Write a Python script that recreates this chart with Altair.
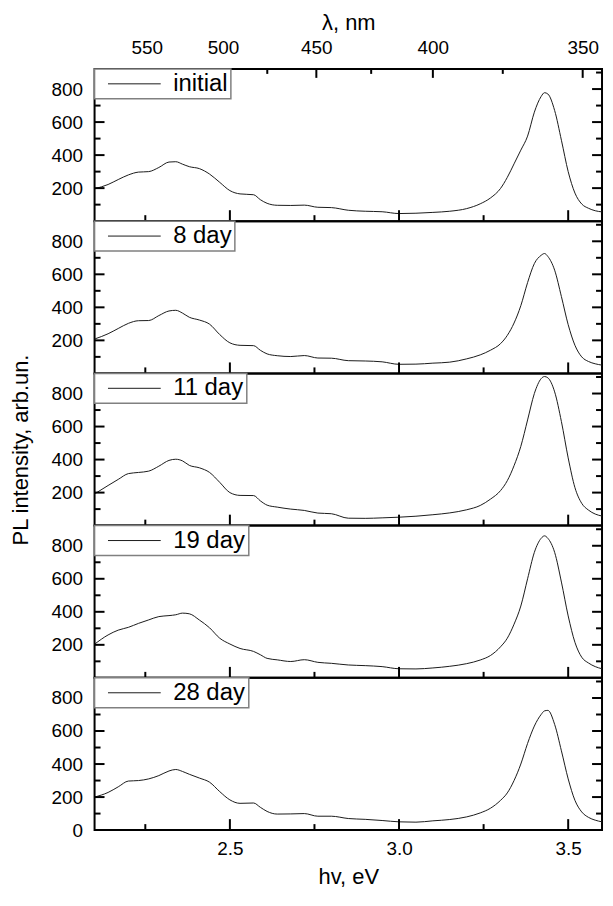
import altair as alt
import pandas as pd

# ---------------- data ----------------
energy = [2.10, 2.14, 2.17, 2.20, 2.23, 2.26, 2.29, 2.32, 2.34, 2.36,
          2.38, 2.41, 2.44, 2.47, 2.50, 2.53, 2.57, 2.59, 2.61, 2.64,
          2.68, 2.72, 2.76, 2.80, 2.85, 2.90, 2.95, 3.00, 3.05, 3.10,
          3.15, 3.20, 3.24, 3.27, 3.30, 3.32, 3.34, 3.36, 3.38, 3.40,
          3.42, 3.43, 3.44, 3.46, 3.48, 3.50, 3.52, 3.54, 3.56, 3.58, 3.60]

initial = [196, 222, 252, 280, 297, 300, 325, 358, 360, 345,
           330, 318, 285, 235, 185, 165, 160, 130, 108, 96,
           95, 97, 84, 82, 66, 60, 57, 46, 48, 53,
           60, 76, 105, 140, 198, 265, 347, 430, 515, 660,
           755, 778, 770, 670, 490, 300, 170, 104, 78, 63, 56]

day8 = [208, 240, 272, 303, 319, 320, 350, 378, 382, 365,
        340, 323, 298, 235, 185, 170, 168, 140, 118, 107,
        102, 108, 93, 92, 77, 75, 70, 55, 56, 62,
        68, 88, 112, 140, 180, 230, 305, 410, 550, 665,
        715, 726, 708, 625, 465, 295, 170, 100, 72, 58, 50]

day11 = [192, 243, 280, 315, 322, 330, 360, 395, 402, 392,
         365, 350, 322, 262, 200, 183, 182, 150, 124, 112,
         100, 92, 76, 72, 45, 44, 47, 51, 57, 66,
         77, 96, 122, 160, 212, 272, 363, 480, 640, 800,
         890, 903, 895, 810, 630, 410, 230, 135, 94, 70, 58]

day19 = [204, 260, 289, 306, 330, 351, 371, 377, 382, 392,
         388, 350, 303, 240, 205, 178, 160, 140, 118, 109,
         99, 110, 94, 88, 78, 74, 68, 55, 54, 60,
         70, 86, 108, 135, 188, 240, 325, 435, 600, 760,
         845, 860, 845, 760, 580, 375, 215, 125, 90, 68, 55]

day28 = [200, 228, 262, 297, 300, 310, 330, 358, 367, 355,
         338, 315, 290, 233, 183, 162, 164, 138, 113, 97,
         98, 100, 84, 84, 70, 65, 58, 50, 48, 56,
         64, 80, 104, 132, 180, 225, 300, 400, 525, 630,
         700, 722, 725, 640, 480, 310, 180, 110, 77, 60, 50]

series_names = ["initial", "8 day", "11 day", "19 day", "28 day"]
series_values = [initial, day8, day11, day19, day28]

ev_major = [2.5, 3.0, 3.5]
ev_minor = [2.25, 2.75, 3.25]
lam_major = [550, 500, 450, 400, 350]
lam_minor = [575, 525, 475, 425, 375]
HC = 1240.0
y_major = [200, 400, 600, 800]
y_minor = [100, 300, 500, 700, 900]

# ---------------- layout / style ----------------
F = "Liberation Sans"
W, H = 510, 153
X_DOMAIN = [2.1, 3.6]
Y_DOMAIN = [0, 922]
LINE_COLOR = "#1a1a1a"
MAJ, MIN = 10, 6


def panel(idx, name, values):
    n = len(series_names)
    df = pd.DataFrame({"E": energy, "I": values, "s": [name] * len(energy)})
    xs = alt.Scale(domain=X_DOMAIN, nice=False, zero=False)
    ys = alt.Scale(domain=Y_DOMAIN, nice=False, zero=False)

    y_label_vals = ([0] if idx == n - 1 else []) + y_major
    y_label_axis = alt.Axis(orient="left", values=y_label_vals, ticks=False, tickSize=0,
                            labelPadding=12, domain=False, grid=False,
                            labelOverlap=False, labelFlush=False,
                            title="PL intensity, arb.un." if idx == 2 else None,
                            titlePadding=19)

    if idx == 0:
        x_axis = alt.Axis(orient="top", values=[HC / l for l in lam_major],
                          labelExpr="format(1240/datum.value, '.0f')",
                          ticks=False, tickSize=0, labelPadding=11,
                          domain=False, grid=False, labelOverlap=False,
                          labelFlush=False, title="λ, nm", titlePadding=5)
    elif idx == n - 1:
        x_axis = alt.Axis(orient="bottom", values=ev_major, format=".1f",
                          ticks=False, tickSize=0, labelPadding=10,
                          domain=False, grid=False, labelOverlap=False,
                          labelFlush=False, title="hv, eV", titlePadding=8)
    else:
        x_axis = None

    legend = alt.Legend(title=None, orient="top-left", offset=0, padding=3,
                        strokeColor="#808080", fillColor="white", cornerRadius=0,
                        symbolType="stroke", symbolSize=2809, symbolStrokeWidth=1,
                        symbolOffset=10, labelOffset=12, clipHeight=24,
                        labelFontSize=24, labelFont=F, labelColor="black")

    layers = [alt.Chart(df).mark_line(strokeWidth=1, interpolate="monotone").encode(
        x=alt.X("E:Q", scale=xs, axis=x_axis),
        y=alt.Y("I:Q", scale=ys, axis=y_label_axis),
        color=alt.Color("s:N", scale=alt.Scale(range=[LINE_COLOR]), legend=legend),
    )]

    tick = dict(color="black", strokeWidth=2)

    def y_ticks(vals, length):
        d = pd.DataFrame({"v": vals})
        yenc = alt.Y("v:Q", scale=ys, axis=None)
        left = alt.Chart(d).mark_rule(**tick).encode(
            y=yenc, x=alt.value(0), x2=alt.value(length))
        right = alt.Chart(d).mark_rule(**tick).encode(
            y=yenc, x=alt.value(W - length), x2=alt.value(W))
        return [left, right]

    def x_ticks(vals, length, top):
        d = pd.DataFrame({"v": vals})
        xenc = alt.X("v:Q", scale=xs, axis=None)
        if top:
            return alt.Chart(d).mark_rule(**tick).encode(
                x=xenc, y=alt.value(0), y2=alt.value(length))
        return alt.Chart(d).mark_rule(**tick).encode(
            x=xenc, y=alt.value(H - length), y2=alt.value(H))

    layers += y_ticks(y_major, MAJ)
    layers += y_ticks(y_minor, MIN)
    layers.append(x_ticks(ev_major, MAJ + 1, False))
    layers.append(x_ticks(ev_minor, MIN, False))
    if idx == 0:
        layers.append(x_ticks([HC / l for l in lam_major], 9, True))
        layers.append(x_ticks([HC / l for l in lam_minor], 5, True))

    return alt.layer(*layers).resolve_axis(x="independent", y="independent").properties(
        width=W, height=H)


panels = [panel(i, nm, vals) for i, (nm, vals) in enumerate(zip(series_names, series_values))]

chart = alt.vconcat(*panels, spacing=0, bounds="flush").resolve_scale(
    color="independent"
).resolve_legend(color="independent").properties(
    padding={"left": 0, "top": 0, "right": 0, "bottom": 0}
).configure_view(
    stroke="black", strokeWidth=2
).configure_axis(
    labelFont=F, titleFont=F, labelColor="black", titleColor="black",
    titleFontWeight="normal", labelFontSize=19, titleFontSize=22
).configure_legend(
    strokeWidth=1.5
)

chart.save("out.html", embed_options={"renderer": "svg", "actions": False})
